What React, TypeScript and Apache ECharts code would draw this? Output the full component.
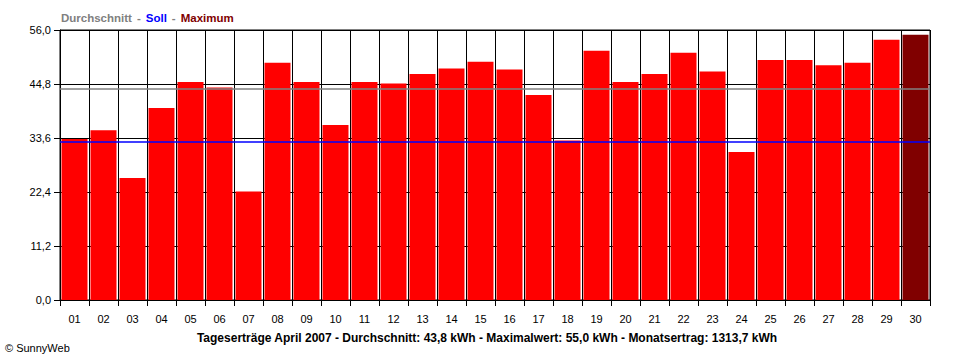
import React, { useEffect, useRef } from "react";
import * as echarts from "echarts";

const days = ["01","02","03","04","05","06","07","08","09","10","11","12","13","14","15","16","17","18","19","20","21","22","23","24","25","26","27","28","29","30"];
const yields = [33.4, 35.2, 25.3, 39.8, 45.2, 44.1, 22.5, 49.2, 45.2, 36.3, 45.2, 44.9, 46.9, 48.0, 49.4, 47.8, 42.5, 33.1, 51.7, 45.2, 46.9, 51.3, 47.4, 30.7, 49.8, 49.8, 48.7, 49.2, 54.0, 55.0];
const average = 43.8;
const target = 32.8;
const yMax = 56;
const yInterval = 11.2;
const footer = "Tageserträge April 2007 - Durchschnitt: 43,8 kWh - Maximalwert: 55,0 kWh - Monatsertrag: 1313,7 kWh";

const FONT = "Liberation Sans";

export default function App() {
  const ref = useRef<HTMLDivElement>(null);
  useEffect(() => {
    document.body.style.margin = "0";
    const chart = echarts.init(ref.current!, null, { renderer: "svg" });
    const maxVal = Math.max(...yields);
    chart.setOption({
      animation: false,
      backgroundColor: "#ffffff",
      textStyle: { fontFamily: FONT },
      title: {
        left: 56,
        top: 4,
        text: "{a|Durchschnitt} {d|-} {b|Soll} {d|-} {c|Maximum}",
        textStyle: {
          rich: {
            a: { color: "#808080", fontWeight: "bold", fontSize: 11.5, fontFamily: FONT },
            d: { color: "#808080", fontWeight: "bold", fontSize: 11.5, fontFamily: FONT },
            b: { color: "#0000ff", fontWeight: "bold", fontSize: 11.5, fontFamily: FONT },
            c: { color: "#800000", fontWeight: "bold", fontSize: 11.5, fontFamily: FONT },
          },
        },
      },
      grid: {
        left: 60,
        right: 30,
        top: 30,
        bottom: 60,
        show: true,
        borderColor: "#000000",
        borderWidth: 1,
        backgroundColor: "transparent",
      },
      xAxis: {
        type: "category",
        data: days,
        boundaryGap: true,
        axisLine: { show: true, lineStyle: { color: "#000000", width: 1 } },
        axisTick: { show: true, length: 6, lineStyle: { color: "#000000", width: 1 }, interval: 0 },
        axisLabel: { color: "#000000", fontSize: 11, fontFamily: FONT, margin: 13, interval: 0 },
        splitLine: { show: true, interval: 0, lineStyle: { color: "#000000", width: 1 } },
      },
      yAxis: {
        type: "value",
        min: 0,
        max: yMax,
        interval: yInterval,
        axisLine: { show: true, lineStyle: { color: "#000000", width: 1 } },
        axisTick: { show: true, length: 6, lineStyle: { color: "#000000", width: 1 } },
        axisLabel: {
          color: "#000000",
          fontSize: 11,
          fontFamily: FONT,
          margin: 9,
          formatter: (v: number) => v.toFixed(1).replace(".", ","),
        },
        splitLine: { show: true, lineStyle: { color: "#000000", width: 1 } },
      },
      series: [
        {
          type: "bar",
          barWidth: 26,
          data: yields.map((v) => ({
            value: v,
            itemStyle: { color: v === maxVal ? "#800000" : "#ff0000" },
          })),
          markLine: {
            silent: true,
            symbol: ["none", "none"],
            label: { show: false },
            data: [
              { yAxis: average, lineStyle: { color: "#808080", width: 1.5, type: "solid" } },
              { yAxis: target, lineStyle: { color: "#0000ff", width: 1.5, type: "solid" } },
            ],
          },
        },
      ],
      graphic: [
        {
          type: "text",
          x: 487,
          y: 338,
          style: {
            text: footer,
            fill: "#000000",
            font: `bold 12px "${FONT}"`,
            textAlign: "center",
            textVerticalAlign: "middle",
          },
        },
        {
          type: "text",
          x: 5,
          y: 348,
          style: {
            text: "© SunnyWeb",
            fill: "#000000",
            font: `11px "${FONT}"`,
            textAlign: "left",
            textVerticalAlign: "middle",
          },
        },
      ],
    });
    return () => chart.dispose();
  }, []);
  return <div ref={ref} style={{ width: 960, height: 360 }} />;
}
